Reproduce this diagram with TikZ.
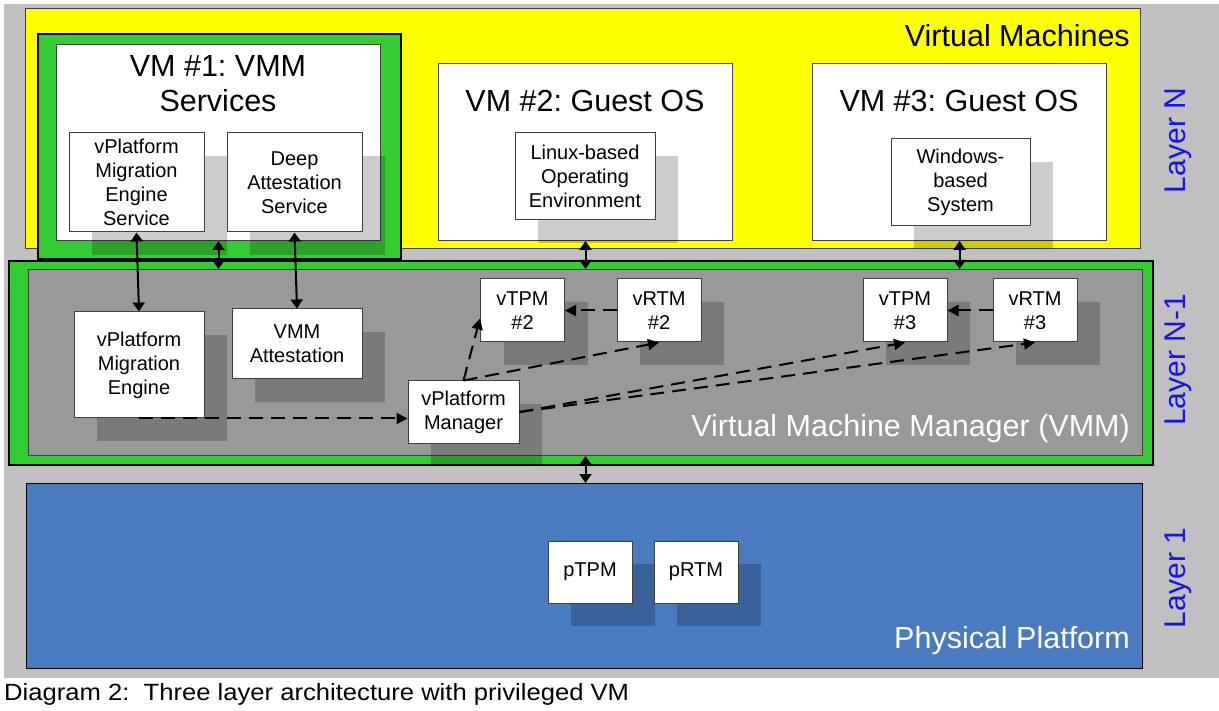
\documentclass[tikz,border=0pt]{standalone}
\usepackage{fontspec}
\setmainfont{Liberation Sans}
\usetikzlibrary{arrows.meta,shadows}
\frenchspacing

\definecolor{bggray}{HTML}{C0C0C0}
\definecolor{vmyellow}{HTML}{FFFF00}
\definecolor{frgreen}{HTML}{33CC33}
\definecolor{vmmgray}{HTML}{999999}
\definecolor{phblue}{HTML}{4A7AC0}
\definecolor{edgegray}{HTML}{404040}
\definecolor{layerblue}{HTML}{1414E6}

\tikzset{
  box/.style={draw=edgegray, line width=1pt, fill=white, inner sep=0pt, align=center,
    font=\fontsize{20}{24}\selectfont,
    drop shadow={shadow xshift=23pt, shadow yshift=-23pt, fill=black, opacity=0.2}},
  area/.style={draw=edgegray, line width=1pt, inner sep=0pt, anchor=north west},
  frame/.style={draw=black, line width=2pt, fill=frgreen, inner sep=0pt, anchor=north west},
  title/.style={font=\fontsize{30.5}{35}\selectfont, inner sep=0pt, align=center},
  layer/.style={font=\fontsize{30}{35}\selectfont, text=layerblue, rotate=90, anchor=base, inner sep=0pt},
  link/.style={line width=2pt, -{Triangle[length=11pt,width=11pt]}},
  dlink/.style={line width=2pt, {Triangle[length=9pt,width=12pt]}-{Triangle[length=9pt,width=12pt]}},
  dashlink/.style={link, dash pattern=on 14pt off 8pt}
}

\begin{document}
\begin{tikzpicture}[x=1pt, y=-1pt]
    \useasboundingbox (0,0) rectangle (1219,711);
    \fill[white] (0,0) rectangle (1219,711);
    \fill[bggray] (4,4) rectangle (1219,678);

    % Layer N: the virtual machines
    \node[area, fill=vmyellow, minimum width=1115, minimum height=240] (vms) at (25,8) {};
    \node[frame, minimum width=363, minimum height=225] (vm1frame) at (37,33) {};
    \node[area, fill=white, minimum width=324, minimum height=196] (vm1) at (56,44) {};
    \node[area, fill=white, minimum width=294, minimum height=177] (vm2) at (438,63) {};
    \node[area, fill=white, minimum width=294, minimum height=177] (vm3) at (812,63) {};

    % Layer N-1: the VMM
    \node[frame, minimum width=1144, minimum height=204] (vmm) at (8,260) {};
    \node[area, fill=vmmgray, minimum width=1114, minimum height=186] (vmmin) at (28,269) {};

    % Layer 1: the platform
    \node[area, draw=black, fill=phblue, minimum width=1116, minimum height=185] (phys) at (26,483) {};

    % Titles
    \node[title, anchor=base east] (vmstitle) at (1130,47) {Virtual Machines};
    \node[title, anchor=north] (vm1title) at (218,55) {VM \#1: VMM\\Services};
    \node[title, anchor=base] (vm2title) at (585,112) {VM \#2: Guest OS};
    \node[title, anchor=base] (vm3title) at (959,112) {VM \#3: Guest OS};
    \node[title, anchor=base east, text=white] (vmmtitle) at (1130,436) {Virtual Machine Manager (VMM)};
    \node[title, anchor=base east, text=white] (phystitle) at (1130,648) {Physical Platform};
    \foreach \y/\t/\n in {140.5/N/lnn, 360/N-1/lnm, 578/1/lone}
      \node[layer] (\n) at (1185,\y) {Layer \t};

    % Components
    \node[box, minimum width=135, minimum height=99] (vpmes) at (136.5,182.5) {vPlatform\\Migration\\Engine\\Service};
    \node[box, minimum width=135, minimum height=99] (das) at (294.5,182.5) {Deep\\Attestation\\Service};
    \node[box, minimum width=140, minimum height=87] (linux) at (585,176.5) {Linux-based\\Operating\\Environment};
    \node[box, minimum width=139, minimum height=87] (windows) at (960.5,182.5) {Windows-\\based\\System};
    \node[box, minimum width=130, minimum height=106] (vpme) at (139,365) {vPlatform\\Migration\\Engine};
    \node[box, minimum width=130, minimum height=70] (vmmatt) at (297,344) {VMM\\Attestation};
    \node[box, minimum width=111, minimum height=62] (vpm) at (463.5,412) {vPlatform\\Manager};
    \foreach \n/\x/\t/\k in {vtpm2/522.5/TPM/2, vrtm2/659/RTM/2, vtpm3/905/TPM/3, vrtm3/1035/RTM/3}
      \node[box, minimum width=84, minimum height=63] (\n) at (\x,310.5) {v\t\\\#\k};
    \node[box, minimum width=84, minimum height=62] (ptpm) at (590,572) {pTPM};
    \node[box, minimum width=84, minimum height=62] (prtm) at (696,572) {pRTM};

    % Layer interfaces
    \draw[dlink] (vm1.south) -- (vm1.south |- vmmin.north);
    \draw[dlink] (vm2.south) -- (vm2.south |- vmmin.north);
    \draw[dlink] (vm3.south) -- (vm3.south |- vmmin.north);
    \draw[dlink] (vmmin.south -| vm2.south) -- (phys.north -| vm2.south);
    \draw[dlink] (vpmes.south) -- (vpme.north);
    \draw[dlink] (das.south) -- (vmmatt.north);

    % Management links
    \draw[dashlink] (vpme.south) -- (vpme.south -| vpm.west);
    \draw[dashlink] (vpm.north) -- ([yshift=-8pt]vtpm2.west);
    \draw[dashlink] (vpm.north) -- (vrtm2.south);
    \draw[dashlink] (vpm.east) -- (vtpm3.south);
    \draw[dashlink] (vpm.east) -- (vrtm3.south);
    \draw[dashlink] (vrtm2.west) -- (vtpm2.east);
    \draw[dashlink] (vrtm3.west) -- (vtpm3.east);

    \node[anchor=base west, inner sep=0pt, font=\fontsize{23.5}{28}\selectfont,
      xscale=1.09, transform shape] (caption) at (4,700)
      {Diagram 2:\ \ Three layer architecture with privileged VM};
\end{tikzpicture}
\end{document}
